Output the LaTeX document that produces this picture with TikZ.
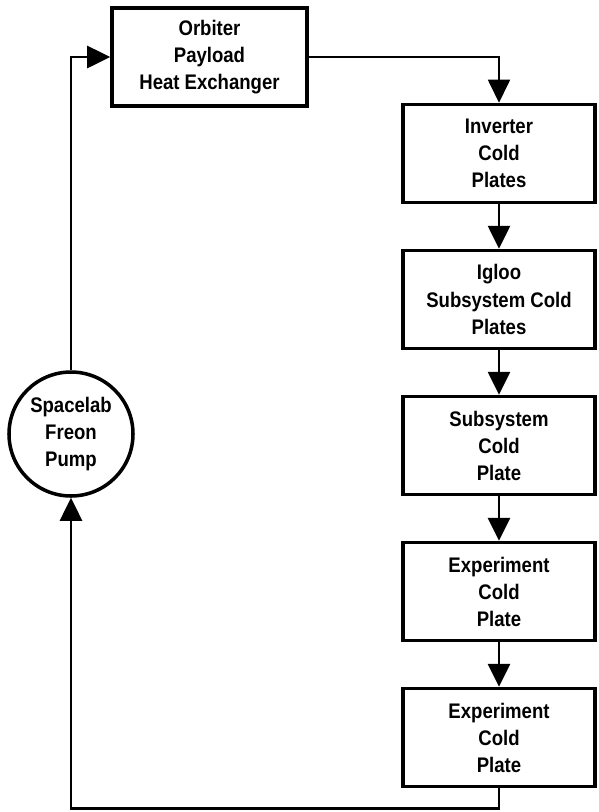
\documentclass[tikz,border=0pt]{standalone}
\usepackage{fontspec}
\setmainfont{Liberation Sans}[FakeStretch=0.88]
\usepackage{tikz}
\usetikzlibrary{shapes,arrows.meta,positioning}

\begin{document}
\begin{tikzpicture}[-{Triangle[length=0.46cm,width=0.44cm]}, line width=1.5pt, node distance=0.89cm,
	unit/.style={rectangle, draw, line width=2pt, minimum width=3.84cm, minimum height=1.96cm, align=center, font=\bfseries\fontsize{12}{15.4}\selectfont},
	pumpnode/.style={circle, draw, line width=2pt, minimum size=2.48cm, inner sep=0pt, align=center, font=\bfseries\fontsize{12}{15.4}\selectfont}]
					\useasboundingbox (0,0) rectangle (11.98,-16.24);
					\node [unit, minimum width=3.9cm] (orbiter) at (4.19,-1.14) {Orbiter\\Payload\\Heat Exchanger};
					\node [unit] (inverter) at (9.98,-3.07) {Inverter\\Cold\\Plates};
					\node [unit] (igloo) [below=of inverter] {Igloo\\Subsystem Cold\\Plates};
					\node [unit] (subsys) [below=of igloo] {Subsystem\\Cold\\Plate};
					\node [unit] (exp1) [below=of subsys] {Experiment\\Cold\\Plate};
					\node [unit] (exp2) [below=of exp1] {Experiment\\Cold\\Plate};
					\node [pumpnode] (pump) at (1.42,-8.68) {Spacelab\\Freon\\Pump};
					\coordinate [below=0.4cm of exp2.south] (ret);
					% freon loop
					\draw [line width=1pt] (orbiter.east) -| (inverter.north);
					\path (inverter) edge (igloo);
					\path (igloo) edge (subsys);
					\path (subsys) edge (exp1);
					\path (exp1) edge (exp2);
					\draw (exp2.south) -- (ret) -| (pump.south);
					\draw (pump.north) |- (orbiter.west);
				\end{tikzpicture}
\end{document}
